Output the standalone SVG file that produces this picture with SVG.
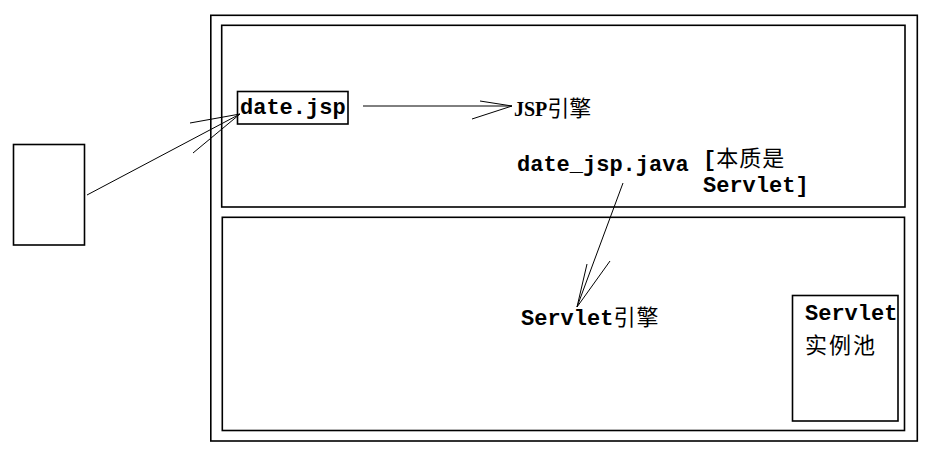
<svg xmlns="http://www.w3.org/2000/svg" width="934" height="452" viewBox="0 0 934 452">
<style>
.box{fill:none;stroke:#000;stroke-width:1.6}
.ln{fill:none;stroke:#000;stroke-width:1}
.t{font-family:"Liberation Mono","Noto Sans CJK SC",monospace;font-weight:bold;font-size:22px;fill:#000}
.cj{font-family:"Noto Sans CJK SC",sans-serif;font-weight:normal;font-size:22px}
.sf{font-family:"Liberation Serif","Noto Sans CJK SC",serif;font-weight:bold;font-size:20px}
</style>
<rect width="934" height="452" fill="#fff"/>
<g id="container">
<rect class="box" x="210.8" y="15.3" width="706.5" height="425.7"/>
</g>
<g id="jsp-area">
<rect class="box" x="221.7" y="25.3" width="683.3" height="181.7"/>
</g>
<g id="servlet-area">
<rect class="box" x="222.3" y="217.3" width="682.2" height="213.2"/>
</g>
<g id="client">
<rect class="box" x="13.5" y="144.5" width="71" height="100.5"/>
</g>
<g id="date-jsp">
<rect class="box" x="237.5" y="91.5" width="110.5" height="32.5"/>
<text class="t" x="240" y="114">date.jsp</text>
</g>
<g id="jsp-engine">
<text class="t" x="514" y="116"><tspan class="sf">JSP</tspan><tspan class="cj" font-size="21">引擎</tspan></text>
</g>
<g id="date-jsp-java">
<text class="t" x="517" y="171">date_jsp.java</text>
<text class="t" x="703" y="166">[<tspan class="cj" letter-spacing="1">本质是</tspan></text>
<text class="t" x="703" y="192">Servlet]</text>
</g>
<g id="servlet-engine">
<text class="t" x="521" y="325">Servlet<tspan class="cj" letter-spacing="1">引擎</tspan></text>
</g>
<g id="servlet-pool">
<rect class="box" x="792.5" y="295.5" width="105.5" height="125.5"/>
<text class="t" x="805" y="320">Servlet</text>
<text class="t" x="805" y="353"><tspan class="cj" letter-spacing="2">实例池</tspan></text>
</g>
<g id="connectors">
<path class="ln" d="M87 195 L240 114 M240 114 L190 123 M240 114 L193 153"/>
<path class="ln" d="M363 106 L512 106 M512 106 L480 101 M512 106 L472 119"/>
<path class="ln" d="M623 183 L577 307 M577 307 L587 264 M577 307 L610 261"/>
</g>
</svg>
